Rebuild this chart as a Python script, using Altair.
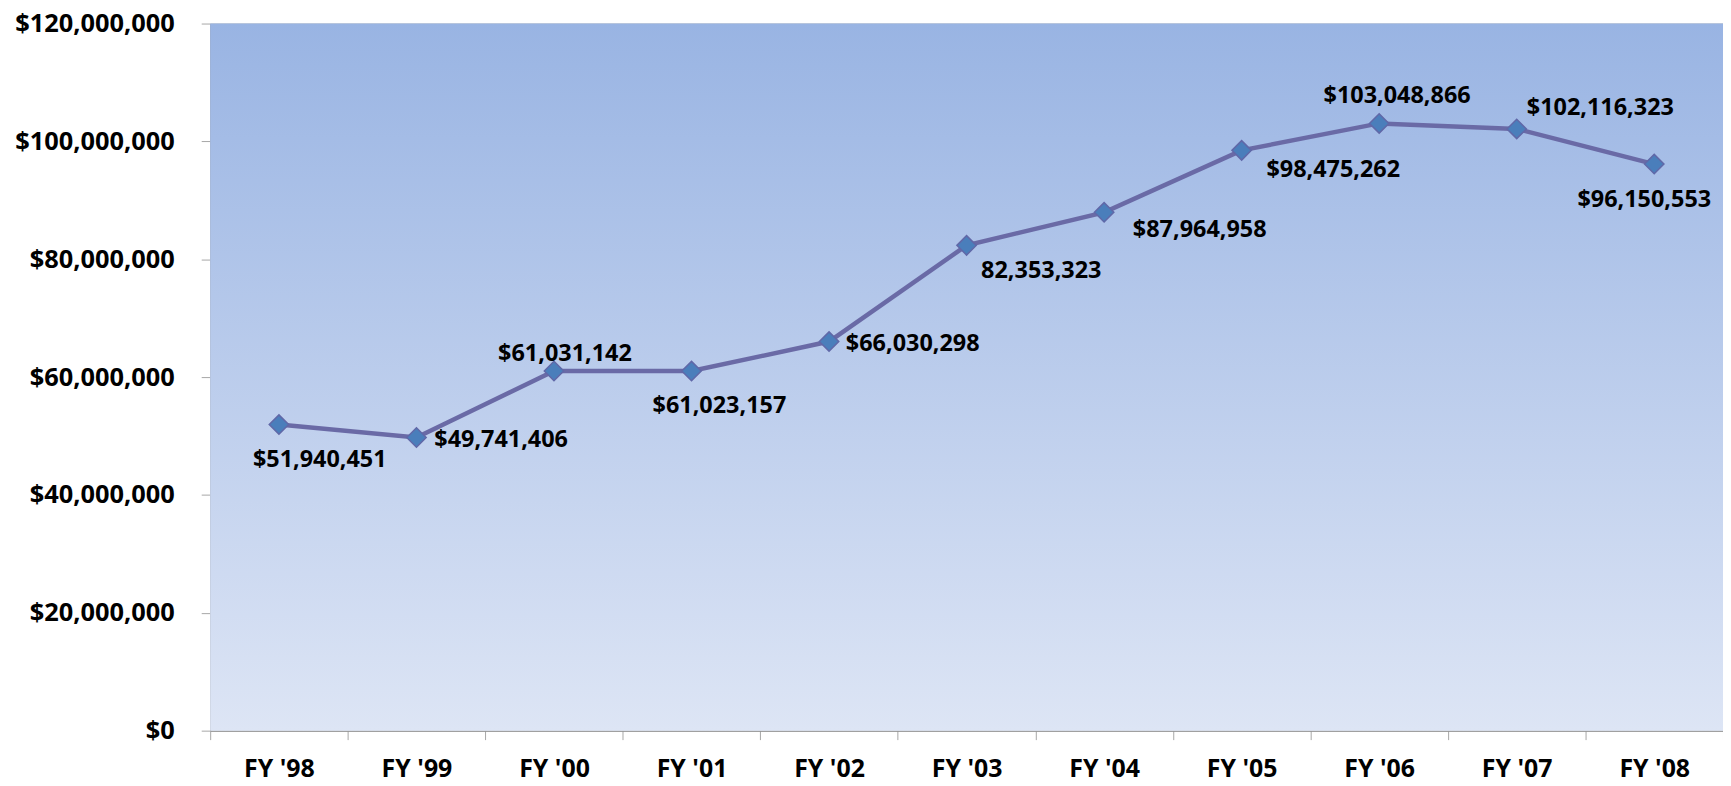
import altair as alt
import pandas as pd

years = ["FY '98", "FY '99", "FY '00", "FY '01", "FY '02", "FY '03",
         "FY '04", "FY '05", "FY '06", "FY '07", "FY '08"]
values = [51940451, 49741406, 61031142, 61023157, 66030298, 82353323,
          87964958, 98475262, 103048866, 102116323, 96150553]
labels = ["$51,940,451", "$49,741,406", "$61,031,142", "$61,023,157",
          "$66,030,298", "82,353,323", "$87,964,958", "$98,475,262",
          "$103,048,866", "$102,116,323", "$96,150,553"]
y_ticks = [0, 20000000, 40000000, 60000000, 80000000, 100000000, 120000000]

# label offsets (dx, dy) relative to each point, in pixels
label_offsets = [(41, 36), (85, 2), (11, -17), (28, 35), (84, 2), (75, 26),
                 (96, 18), (92, 20), (18, -28), (84, -21), (-10, 36)]

W, H = 1519, 710
FONT = "Open Sans"

df = pd.DataFrame({"year": years, "value": values, "label": labels,
                   "idx": list(range(len(years)))})

x_enc = alt.X("year:N", sort=years, bandPosition=0.5,
              scale=alt.Scale(paddingInner=0, paddingOuter=0),
              axis=alt.Axis(title=None, labelAngle=0, tickBand="extent",
                            grid=False, domainColor="#8c8c8c", tickColor="#a6a6a6",
                            tickSize=9, labelFont=FONT, labelFontSize=25,
                            labelFontWeight="bold", labelColor="#000000",
                            labelPadding=17, labelBaseline="top",
                            labelOverlap=False))
y_enc = alt.Y("value:Q",
              scale=alt.Scale(domain=[0, 120000000], nice=False, zero=True),
              axis=alt.Axis(title=None, values=y_ticks, format="$,.0f",
                            grid=True, gridColor="#a6a6a6", gridWidth=1,
                            domainColor="#8c8c8c", tickColor="#a6a6a6",
                            tickSize=9, labelFont=FONT, labelFontSize=25.5,
                            labelFontWeight="bold", labelColor="#000000",
                            labelPadding=27, labelBaseline="middle",
                            labelOverlap=False))

bg = alt.Chart(alt.Data(values=[{}])).mark_rect(
    color=alt.Gradient(gradient="linear",
                       stops=[alt.GradientStop(color="#99b4e3", offset=0),
                              alt.GradientStop(color="#dde5f5", offset=1)],
                       x1=0, x2=0, y1=0, y2=1),
    strokeWidth=0
).encode(x=alt.value(0), x2=alt.value(W), y=alt.value(0), y2=alt.value(H))

base = alt.Chart(df)

line = base.mark_line(color="#6a6aa6", strokeWidth=4.5).encode(x=x_enc, y=y_enc)

pts = base.mark_point(shape="diamond", filled=True, size=380, fill="#4a7ebb",
                      stroke="#6068a8", strokeWidth=1.5, opacity=1).encode(
    x=alt.X("year:N", sort=years, bandPosition=0.5),
    y="value:Q")

texts = []
for i, (dx, dy) in enumerate(label_offsets):
    texts.append(
        base.transform_filter(alt.datum.idx == i).mark_text(
            font=FONT, fontSize=23.5, fontWeight="bold", color="#000000",
            align="center", baseline="middle", dx=dx, dy=dy
        ).encode(x=alt.X("year:N", sort=years, bandPosition=0.5),
                 y="value:Q", text="label:N")
    )

chart = alt.layer(bg, line, pts, *texts).properties(
    width=W, height=H,
    padding={"left": 203, "top": 14, "right": 0, "bottom": 60},
    autosize=alt.AutoSizeParams(type="none"),
    background="#ffffff"
).configure_view(stroke=None)

chart.save("out.html", embed_options={"renderer": "svg", "actions": False})
